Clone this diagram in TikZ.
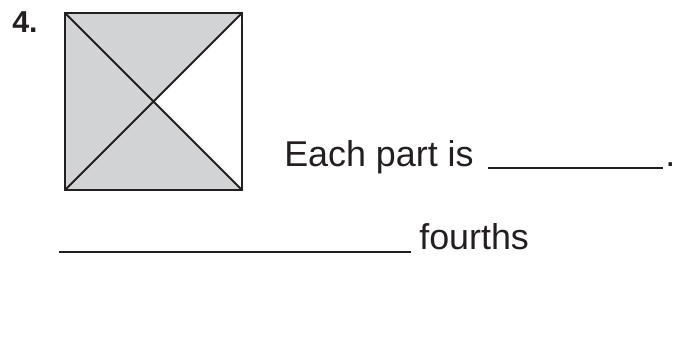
\documentclass[tikz,border=0pt]{standalone}
\usepackage{fontspec}
\setmainfont{Liberation Sans}
\usetikzlibrary{positioning}
\definecolor{ink}{HTML}{231F20}
\definecolor{partgrey}{HTML}{D1D3D4}

\begin{document}
\begin{tikzpicture}[x=.025cm,y=-.025cm,
 every node/.style={inner sep=0pt,text=ink,anchor=base west},
 words/.style={font=\fontsize{25.5}{30}\selectfont},
 blank/.style={ink,line width=1.7pt}]
 \useasboundingbox (0,0) rectangle (678,348);
 \node[font=\fontsize{21.5}{24}\selectfont\bfseries] (num) at (12,33) {4.};
 % square cut along both diagonals
 \coordinate (nw) at (65,13); \coordinate (ne) at (242,13);
 \coordinate (se) at (242,190); \coordinate (sw) at (65,190);
 \coordinate (mid) at (153.5,101.5);
 \fill[partgrey] (nw)--(ne)--(mid)--(se)--(sw)--cycle;
 \draw[ink,line width=1.5pt] (nw)--(se) (ne)--(sw);
 \draw[ink,line width=2pt] (nw) rectangle (se);
 % answer lines
 \node[words] (each) at (284,166.5) {Each part is};
 \coordinate (a1) at (488,168); \coordinate (a2) at (663,168);
 \draw[blank] (a1)--(a2);
 \node[words] (dot) at (665,166.5) {.};
 \coordinate (b1) at (59,252); \coordinate (b2) at (411,252);
 \draw[blank] (b1)--(b2);
 \node[words] (four) at (419,249) {fourths};
\end{tikzpicture}
\end{document}
